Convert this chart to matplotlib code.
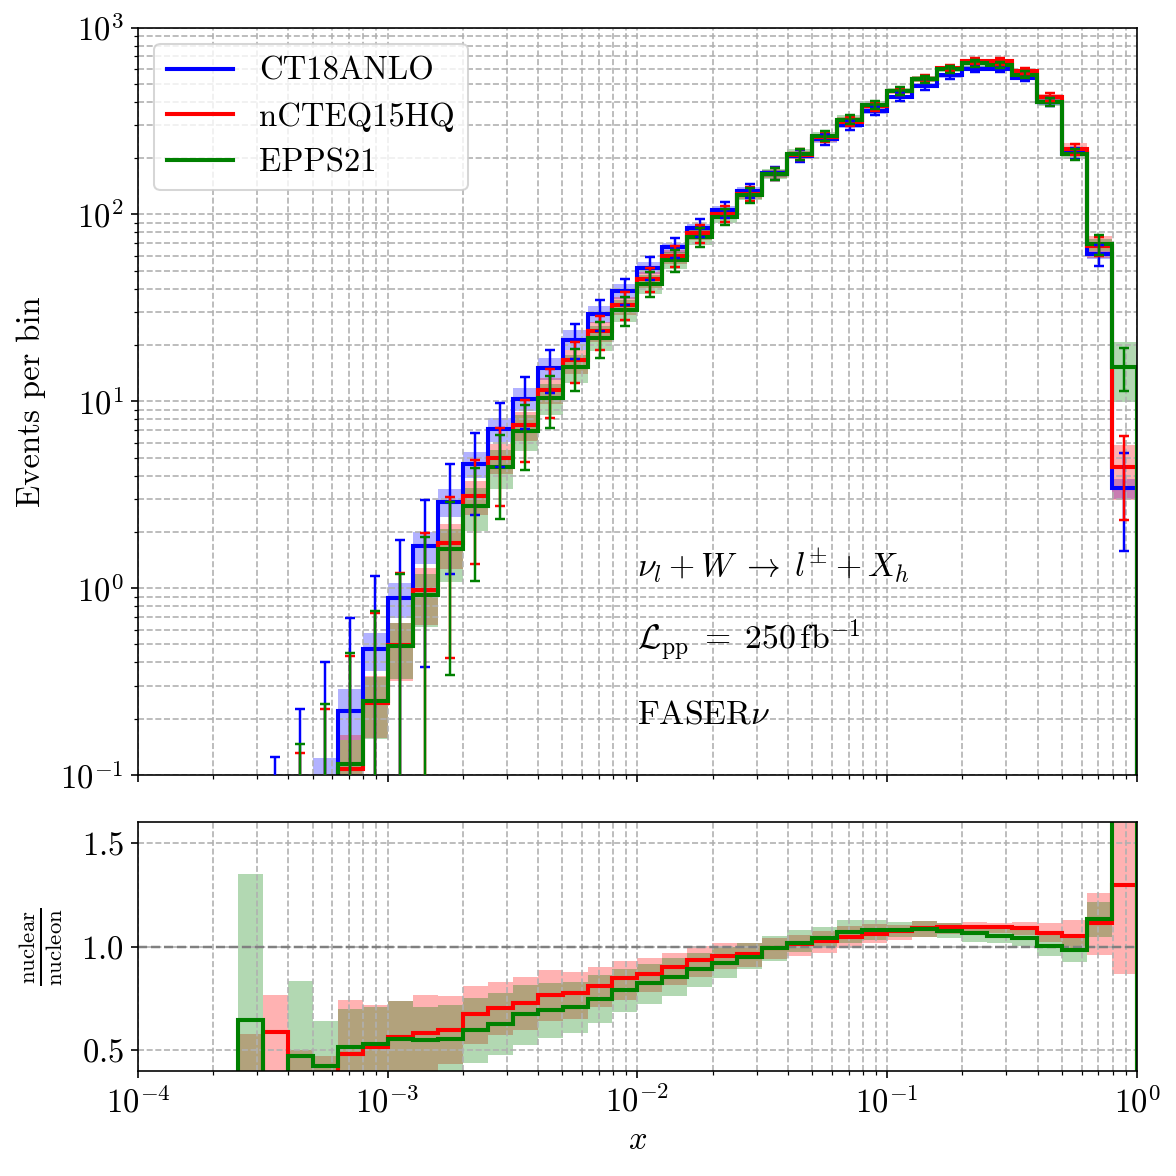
import numpy as np
import matplotlib
matplotlib.use("Agg")
import matplotlib.pyplot as plt

plt.rcParams["font.family"] = "serif"
plt.rcParams["font.serif"] = ["cmr10"]
plt.rcParams["mathtext.fontset"] = "cm"
plt.rcParams["axes.formatter.use_mathtext"] = True
plt.rcParams["font.size"] = 16

# 10 bins per decade, 1e-4 .. 1
x_edges = np.logspace(-4, 0, 41)

# events per bin (None = empty bin)
ct18 = [None, None, None, None, 0.004, 0.0125, 0.036, 0.094, 0.221, 0.47,
        0.88, 1.67, 2.90, 4.6, 7.1, 10.3, 15.0, 21.4, 29.3, 38.9,
        51.8, 66.5, 84.8, 106, 134, 166, 206, 252, 300, 358,
        425, 488, 555, 603, 601, 538, 398, 213, 61, 3.42]
ncteq = [None, None, None, None, 0.0012, 0.0074, 0.0137, 0.036, 0.107, 0.243,
         0.497, 0.975, 1.74, 3.10, 5.0, 7.48, 11.5, 16.6, 23.7, 32.9,
         44.9, 59.9, 79.3, 101, 129, 165, 209, 259, 314, 379,
         456, 531, 607, 661, 659, 586, 425, 224, 67.9, 4.43]
epps = [None, None, None, None, 0.0026, 0.001, 0.017, 0.040, 0.114, 0.250,
        0.489, 0.915, 1.61, 2.75, 4.47, 6.94, 10.4, 15.2, 21.8, 30.7,
        42.6, 56.9, 75.5, 97.4, 127, 165, 210, 263, 321, 387,
        459, 529, 598, 642, 632, 560, 399, 210, 69.1, 15.3]

# relative PDF uncertainty of CT18ANLO
ct18_rel = [None, None, None, None, 0.3, 0.3, 0.3, 0.31, 0.30, 0.23,
            0.21, 0.19, 0.17, 0.16, 0.15, 0.14, 0.13, 0.12, 0.10, 0.09,
            0.07, 0.06, 0.05, 0.05, 0.045, 0.04, 0.04, 0.04, 0.035, 0.035,
            0.03, 0.03, 0.03, 0.03, 0.03, 0.03, 0.035, 0.04, 0.05, 0.12]

# nuclear / nucleon ratios with bands
ncteq_ratio = [None, None, None, None, 0.30, 0.59, 0.38, 0.38, 0.484, 0.516,
               0.565, 0.584, 0.60, 0.673, 0.705, 0.726, 0.769, 0.774, 0.81, 0.847,
               0.866, 0.90, 0.935, 0.956, 0.965, 0.992, 1.013, 1.027, 1.045, 1.06,
               1.073, 1.089, 1.094, 1.097, 1.097, 1.089, 1.068, 1.052, 1.113, 1.297]
ncteq_lo = [None, None, None, None, 0.05, 0.2, 0.2, 0.25, 0.3, 0.334,
            0.36, 0.38, 0.435, 0.532, 0.573, 0.597, 0.642, 0.653, 0.71, 0.742,
            0.78, 0.815, 0.855, 0.89, 0.903, 0.94, 0.955, 0.971, 0.995, 1.016,
            1.032, 1.048, 1.061, 1.068, 1.065, 1.056, 1.024, 0.992, 0.96, 0.87]
ncteq_hi = [None, None, None, None, 0.577, 0.766, 0.50, 0.471, 0.742, 0.718,
            0.739, 0.765, 0.761, 0.81, 0.831, 0.855, 0.887, 0.879, 0.903, 0.932,
            0.945, 0.971, 1.003, 1.016, 1.019, 1.04, 1.056, 1.073, 1.1, 1.108,
            1.105, 1.124, 1.116, 1.121, 1.116, 1.121, 1.113, 1.129, 1.258, 1.70]

epps_ratio = [None, None, None, None, 0.648, 0.08, 0.473, 0.423, 0.516, 0.532,
              0.556, 0.548, 0.556, 0.597, 0.629, 0.674, 0.694, 0.71, 0.745, 0.79,
              0.823, 0.855, 0.89, 0.919, 0.948, 0.992, 1.019, 1.044, 1.071, 1.081,
              1.081, 1.085, 1.077, 1.065, 1.052, 1.04, 1.003, 0.984, 1.132, 4.47]
epps_lo = [None, None, None, None, 0.2, 0.0, 0.25, 0.25, 0.3, 0.33,
           0.37, 0.37, 0.37, 0.439, 0.476, 0.524, 0.56, 0.584, 0.632, 0.685,
           0.721, 0.763, 0.806, 0.85, 0.89, 0.93, 0.976, 0.997, 1.019, 1.032,
           1.048, 1.048, 1.04, 1.021, 1.016, 1.003, 0.955, 0.927, 1.045, 2.9]
epps_hi = [None, None, None, None, 1.35, 0.15, 0.834, 0.64, 0.697, 0.71,
           0.739, 0.71, 0.718, 0.75, 0.777, 0.815, 0.826, 0.831, 0.863, 0.89,
           0.916, 0.944, 0.971, 1.0, 1.016, 1.05, 1.081, 1.097, 1.129, 1.129,
           1.121, 1.124, 1.113, 1.105, 1.089, 1.084, 1.056, 1.04, 1.213, 6.1]

labels = ["CT18ANLO", "nCTEQ15HQ", "EPPS21"]
colors = ["blue", "red", "green"]


def arr(v):
    return np.array(v, dtype=float)


ct18 = arr(ct18)
base = ct18
centers = np.sqrt(x_edges[:-1] * x_edges[1:])

main_series = [
    (ct18, base * (1 - arr(ct18_rel)), base * (1 + arr(ct18_rel))),
    (arr(ncteq), base * arr(ncteq_lo), base * arr(ncteq_hi)),
    (arr(epps), base * arr(epps_lo), base * arr(epps_hi)),
]
ratio_series = [
    (arr(ncteq_ratio), arr(ncteq_lo), arr(ncteq_hi), "red"),
    (arr(epps_ratio), arr(epps_lo), arr(epps_hi), "green"),
]

fig = plt.figure(figsize=(8, 8), dpi=147)
ax = fig.add_axes([0.1173, 0.3410, 0.8495, 0.6356])
rax = fig.add_axes([0.1173, 0.0893, 0.8495, 0.2115], sharex=ax)

# bands and step lines first, error bars on top
for (vals, lo, hi), c, lab in zip(main_series, colors, labels):
    ok = np.isfinite(vals)
    i0 = np.argmax(ok)
    e = x_edges[i0:]
    ax.stairs(hi[i0:], e, baseline=lo[i0:], fill=True, color=c, alpha=0.3, lw=0)
    ax.stairs(vals[i0:], e, baseline=1e-6, color=c, lw=2, label=lab, zorder=2.5)

for (vals, lo, hi), c in zip(main_series, colors):
    ok = np.isfinite(vals)
    ax.errorbar(centers[ok], vals[ok], yerr=np.sqrt(vals[ok]), fmt="none",
                ecolor=c, elinewidth=1.2, capsize=2.5, capthick=1.2, zorder=2.6)

ax.set_xscale("log")
ax.set_yscale("log")
ax.set_xlim(1e-4, 1)
ax.set_ylim(0.1, 1000)
ax.set_ylabel("Events per bin", labelpad=7)
ax.tick_params(labelbottom=False)
ax.grid(True, which="both", ls="--", color="#b0b0b0", lw=0.8)
ax.legend(loc="upper left", fontsize=16)

ax.text(0.5, 0.28, r"$\nu_l + W \;\rightarrow\; l^{\pm} + X_h$", transform=ax.transAxes,
        va="center", fontsize=16.5)
ax.text(0.5, 0.18, r"$\mathcal{L}_{\rm pp} \;=\; 250\,{\rm fb}^{-1}$", transform=ax.transAxes,
        va="center", fontsize=16.5)
ax.text(0.5, 0.08, r"FASER$\nu$", transform=ax.transAxes, va="center", fontsize=16.5)

for r, lo, hi, c in ratio_series:
    ok = np.isfinite(r)
    i0 = np.argmax(ok)
    e = x_edges[i0:]
    rax.stairs(hi[i0:], e, baseline=lo[i0:], fill=True, color=c, alpha=0.3, lw=0)
    rax.stairs(r[i0:], e, baseline=0, color=c, lw=2, zorder=2.5)

rax.axhline(1.0, color="grey", ls="--", lw=1.2)
rax.set_ylim(0.4, 1.6)
rax.set_yticks([0.5, 1.0, 1.5])
rax.set_xlabel(r"$x$")
rax.set_ylabel(r"$\frac{\rm nuclear}{\rm nucleon}$", labelpad=8)
rax.grid(True, which="both", ls="--", color="#b0b0b0", lw=0.8)

fig.savefig("out.png", dpi=147)
